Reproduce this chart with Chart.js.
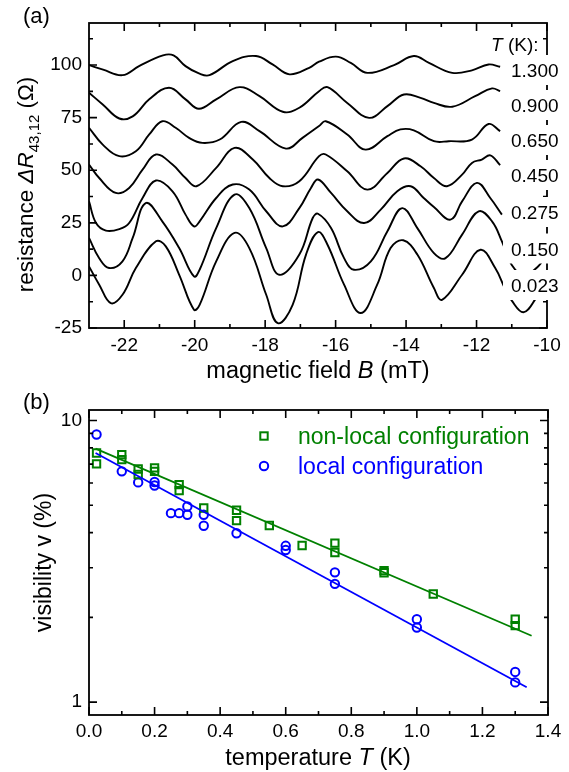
<!DOCTYPE html>
<html>
<head>
<meta charset="utf-8">
<script src="https://cdn.jsdelivr.net/npm/chart.js@4.4.1/dist/chart.umd.min.js"></script>
<style>
  html, body { margin: 0; padding: 0; background: #fff; }
  #wrap { position: relative; width: 569px; height: 772px; }
  canvas { position: absolute; left: 0; }
  #panelA { top: 0; }
  #panelB { top: 386px; }
</style>
</head>
<body>
<div id="wrap">
  <canvas id="panelA" width="569" height="386" style="width:569px;height:386px"></canvas>
  <canvas id="panelB" width="569" height="386" style="width:569px;height:386px"></canvas>
</div>
<script>
// ---- panel (a): resistance oscillations vs magnetic field ----
const fieldTicks = [-22, -20, -18, -16, -14, -12, -10];
const fieldMinorTicks = [-21, -19, -17, -15, -13, -11];
const resistanceTicks = [-25, 0, 25, 50, 75, 100];
const resistanceMinorTicks = [-12.5, 12.5, 37.5, 62.5, 87.5, 112.5];
const tempLabels = ['1.300', '0.900', '0.650', '0.450', '0.275', '0.150', '0.023'];

// [B (mT), dR (Ohm)] with vertical offsets already included
const trace1300 = [[-23.0,100],[-22.6,97.8],[-22.05,95.2],[-21.58,99.5],[-20.9,104.6],[-20.6,104.6],[-20.26,99.5],[-19.88,96],[-19.58,95.2],[-18.92,101.9],[-18.26,104.3],[-17.79,100.3],[-17.31,95.6],[-16.75,98.7],[-16.47,101.6],[-15.99,104],[-15.57,101],[-15.1,96.3],[-14.34,100],[-13.78,104.3],[-13.35,101],[-12.69,96.3],[-12.13,97.5],[-11.66,100.3],[-11.33,99.2]];
const trace0900 = [[-23.0,86.8],[-22.61,81.3],[-22.14,74.6],[-21.76,75.6],[-21.29,83.7],[-20.73,89.2],[-20.26,83.7],[-19.88,79.2],[-19.39,83.7],[-18.73,89.5],[-18.16,85.2],[-17.5,77.8],[-17.03,79.7],[-16.47,87.6],[-16.23,89.5],[-15.67,82],[-15.05,74.9],[-14.53,80.5],[-14.06,86],[-13.59,84.4],[-13.21,82],[-12.69,80.2],[-12.04,85.2],[-11.56,88.9],[-11.33,87.6]];
const trace0650 = [[-23.0,70.2],[-22.61,62.2],[-22.14,56.7],[-21.67,59],[-21.29,67],[-20.92,73.3],[-20.54,70.2],[-20.16,65.4],[-19.78,63],[-19.29,64.6],[-18.68,73],[-18.16,68.6],[-17.41,60.3],[-16.94,65.4],[-16.47,71],[-16.28,73.3],[-15.67,67],[-15.15,59.8],[-14.53,66.2],[-14.16,69.4],[-13.78,69],[-13.21,63.8],[-12.79,63.8],[-12.13,64.6],[-11.66,72],[-11.33,68.6]];
const trace0450 = [[-23.0,52.7],[-22.71,46.3],[-22.24,39.2],[-21.86,41.6],[-21.48,50.3],[-21.1,57.5],[-20.63,52.7],[-20.26,46.3],[-19.95,42.4],[-19.39,51.1],[-18.87,60.6],[-18.35,55.1],[-17.88,46.3],[-17.5,42.4],[-17.03,44.8],[-16.47,56.7],[-16.28,57.5],[-15.67,49.5],[-15.1,40.8],[-14.53,48.7],[-14.06,55.6],[-13.59,51.9],[-13.21,46.3],[-12.84,42.4],[-12.41,47.9],[-12.13,53.5],[-11.85,55.1],[-11.61,57.1],[-11.33,52.4]];
const trace0275 = [[-23.0,35.2],[-22.8,24.9],[-22.52,21.3],[-22.14,22],[-21.86,24.9],[-21.48,36.8],[-21.1,45.1],[-20.63,40],[-20.26,28.9],[-20.02,23.3],[-19.86,25.7],[-19.39,36.8],[-18.92,43.2],[-18.45,40.8],[-17.97,30.5],[-17.5,23.3],[-17.03,32],[-16.7,41.6],[-16.5,45.6],[-16.13,39.2],[-15.67,30.5],[-15.19,24.9],[-14.72,31.3],[-14.25,40],[-13.87,42.4],[-13.5,36.8],[-13.21,32.5],[-12.74,26.5],[-12.41,35.2],[-11.99,44],[-11.61,36.8],[-11.28,28.9]];
const trace0150 = [[-23.0,17.8],[-22.71,8.2],[-22.43,3.5],[-22.05,6.7],[-21.76,17.8],[-21.39,34.4],[-20.92,25.7],[-20.44,13],[-20.02,-0.5],[-19.86,2.7],[-19.39,22.5],[-18.87,38.4],[-18.45,32],[-17.97,13],[-17.6,0.3],[-17.03,9.9],[-16.65,27.3],[-16.5,29.3],[-16.13,22.5],[-15.76,8.2],[-15.48,2.7],[-15.0,6.7],[-14.53,21],[-14.11,32],[-13.68,22.5],[-13.21,10.6],[-12.88,8.2],[-12.41,19.4],[-11.94,30.5],[-11.56,25.7],[-11.28,16.2],[-11.0,5],[-10.65,0],[-10.24,4.5],[-10.05,9]];
const trace0023 = [[-23.0,4.3],[-22.71,-4.4],[-22.38,-13.2],[-22.05,-9.2],[-21.67,3.5],[-21.1,16.2],[-20.82,13.8],[-20.44,0.3],[-20.02,-16.3],[-19.86,-14],[-19.39,6.7],[-18.87,20.2],[-18.45,13],[-17.97,-9.2],[-17.64,-22.7],[-17.22,-14],[-16.84,9.9],[-16.5,20.6],[-16.23,14.6],[-15.76,-4.4],[-15.29,-17.9],[-14.82,-4.4],[-14.44,13],[-14.08,16.7],[-13.68,9.9],[-13.21,-6],[-12.98,-11.6],[-12.41,0.3],[-11.89,12.2],[-11.47,3.5],[-11.2,-6],[-11.0,-12],[-10.67,-17.5],[-10.34,-11.5],[-10.1,-3]];
const traces = [trace1300, trace0900, trace0650, trace0450, trace0275, trace0150, trace0023];

// ---- panel (b): visibility vs temperature ----
const tempTicks = [0, 0.2, 0.4, 0.6, 0.8, 1.0, 1.2, 1.4];
const tempMinorTicks = [0.1, 0.3, 0.5, 0.7, 0.9, 1.1, 1.3];
const visTicks = [1, 10];
const visMinorTicks = [2, 3, 4, 5, 6, 7, 8, 9];

const nonlocalT = [0.023, 0.023, 0.1, 0.1, 0.15, 0.15, 0.2, 0.2, 0.275, 0.275, 0.35, 0.45, 0.45, 0.55, 0.65, 0.75, 0.75, 0.9, 0.9, 1.05, 1.3, 1.3];
const nonlocalV = [7.67, 7.02, 7.57, 7.26, 6.73, 6.43, 6.79, 6.60, 5.92, 5.64, 4.89, 4.80, 4.41, 4.24, 3.60, 3.67, 3.40, 2.93, 2.88, 2.42, 1.97, 1.87];
const localT = [0.023, 0.1, 0.15, 0.2, 0.2, 0.25, 0.275, 0.3, 0.3, 0.35, 0.35, 0.45, 0.6, 0.6, 0.75, 0.75, 1.0, 1.0, 1.3, 1.3];
const localV = [8.92, 6.60, 6.03, 6.05, 5.88, 4.69, 4.69, 4.95, 4.63, 4.63, 4.23, 3.98, 3.59, 3.47, 2.89, 2.63, 1.97, 1.84, 1.28, 1.175];
const fitNonlocalT = [0.02, 1.35];
const fitNonlocalV = [7.95, 1.72];
const fitLocalT = [0.02, 1.335];
const fitLocalV = [7.67, 1.13];

const FONT = "'Liberation Sans', Arial, Helvetica, sans-serif";
const GREEN = '#008000';
const BLUE = '#0000ff';
const tickFont = { family: FONT, size: 19 };

function pairs(xs, ys) {
    return xs.map((x, i) => ({ x: x, y: ys[i] }));
}

// frame plus inward major/minor ticks on all four sides
function drawFrame(chart, xMinor, yMinor) {
    const { ctx, chartArea: a, scales: { x, y } } = chart;
    ctx.save();
    ctx.strokeStyle = '#000';
    ctx.lineWidth = 1.8;
    ctx.strokeRect(a.left, a.top, a.right - a.left, a.bottom - a.top);
    ctx.lineWidth = 1.6;
    ctx.beginPath();
    const xTick = (v, len) => {
        const px = x.getPixelForValue(v);
        ctx.moveTo(px, a.bottom); ctx.lineTo(px, a.bottom - len);
        ctx.moveTo(px, a.top); ctx.lineTo(px, a.top + len);
    };
    const yTick = (v, len) => {
        const py = y.getPixelForValue(v);
        ctx.moveTo(a.left, py); ctx.lineTo(a.left + len, py);
        ctx.moveTo(a.right, py); ctx.lineTo(a.right - len, py);
    };
    x.ticks.forEach(t => xTick(t.value, 8));
    xMinor.forEach(v => xTick(v, 4));
    y.ticks.forEach(t => yTick(t.value, 8));
    yMinor.forEach(v => yTick(v, 4));
    ctx.stroke();
    ctx.restore();
}

// mixed-style text run (italic symbols, subscripts), centred on (cx, baseline)
function richText(ctx, parts, cx, baseline, rotate) {
    ctx.save();
    ctx.translate(cx, baseline);
    if (rotate) ctx.rotate(-Math.PI / 2);
    let total = 0;
    parts.forEach(p => { ctx.font = p.font; p.w = ctx.measureText(p.text).width; total += p.w; });
    let x = -total / 2;
    ctx.textAlign = 'left';
    ctx.textBaseline = 'alphabetic';
    parts.forEach(p => {
        ctx.font = p.font;
        ctx.fillStyle = p.color || '#000';
        ctx.fillText(p.text, x, p.dy || 0);
        x += p.w;
    });
    ctx.restore();
}

const panelAPlugin = {
    id: 'panelADecor',
    afterDraw(chart) {
        const ctx = chart.ctx;
        drawFrame(chart, fieldMinorTicks, resistanceMinorTicks);

        // temperature labels on the right, on white patches
        const centres = [70, 105, 140, 175, 212, 248.5, 285];
        ctx.save();
        ctx.font = '19px ' + FONT;
        ctx.textAlign = 'left';
        ctx.textBaseline = 'alphabetic';
        tempLabels.forEach((lbl, i) => {
            ctx.fillStyle = '#fff';
            ctx.fillRect(503, centres[i] - 15, 62, 30);
            ctx.fillStyle = '#000';
            ctx.fillText(lbl, 511, centres[i] + 7);
        });
        ctx.font = 'italic 19px ' + FONT;
        ctx.fillText('T', 491, 50.5);
        const tw = ctx.measureText('T').width;
        ctx.font = '19px ' + FONT;
        ctx.fillText(' (K):', 491 + tw, 50.5);

        ctx.font = '22px ' + FONT;
        ctx.fillText('(a)', 23, 23);
        ctx.restore();

        richText(ctx, [
            { text: 'magnetic field ', font: '23.5px ' + FONT },
            { text: 'B', font: 'italic 23.5px ' + FONT },
            { text: ' (mT)', font: '23.5px ' + FONT }
        ], 318, 378, false);

        richText(ctx, [
            { text: 'resistance ', font: '22.5px ' + FONT },
            { text: '\u0394R', font: 'italic 22.5px ' + FONT },
            { text: '43,12', font: '15px ' + FONT, dy: 6 },
            { text: ' (\u03A9)', font: '22.5px ' + FONT }
        ], 33, 184.5, true);
    }
};

const panelBPlugin = {
    id: 'panelBDecor',
    afterDraw(chart) {
        const ctx = chart.ctx;
        drawFrame(chart, tempMinorTicks, visMinorTicks);

        ctx.save();
        // legend
        ctx.lineWidth = 2;
        ctx.strokeStyle = GREEN;
        ctx.strokeRect(264 - 3.7, 50 - 3.7, 7.4, 7.4);
        ctx.strokeStyle = BLUE;
        ctx.beginPath();
        ctx.arc(264, 80, 4.2, 0, Math.PI * 2);
        ctx.stroke();
        ctx.font = '23px ' + FONT;
        ctx.textAlign = 'left';
        ctx.textBaseline = 'alphabetic';
        ctx.fillStyle = GREEN;
        ctx.fillText('non-local configuration', 298, 57.5);
        ctx.fillStyle = BLUE;
        ctx.fillText('local configuration', 298, 87.5);

        ctx.fillStyle = '#000';
        ctx.font = '22px ' + FONT;
        ctx.fillText('(b)', 23, 23);
        ctx.restore();

        richText(ctx, [
            { text: 'temperature ', font: '23.5px ' + FONT },
            { text: 'T', font: 'italic 23.5px ' + FONT },
            { text: ' (K)', font: '23.5px ' + FONT }
        ], 318, 379, false);

        richText(ctx, [
            { text: 'visibility v (%)', font: '23px ' + FONT }
        ], 50.5, 176.5, true);
    }
};

new Chart(document.getElementById('panelA'), {
    type: 'line',
    data: {
        datasets: traces.map((pts, i) => ({
            label: tempLabels[i],
            data: pts.map(p => ({ x: p[0], y: p[1] })),
            borderColor: '#000',
            borderWidth: 1.9,
            pointRadius: 0,
            tension: 0.4,
            fill: false
        }))
    },
    options: {
        responsive: false,
        animation: false,
        events: [],
        layout: { padding: { left: 40, right: 22, top: 23, bottom: 11 } },
        plugins: { legend: { display: false }, tooltip: { enabled: false } },
        scales: {
            x: {
                type: 'linear', min: -23, max: -10,
                grid: { display: false, drawTicks: false },
                border: { display: false },
                ticks: { font: tickFont, color: '#000', padding: 6, autoSkip: false, maxRotation: 0 },
                afterBuildTicks: s => { s.ticks = fieldTicks.map(v => ({ value: v })); },
                afterFit: s => { s.height = 47; }
            },
            y: {
                type: 'linear', min: -25, max: 120,
                grid: { display: false, drawTicks: false },
                border: { display: false },
                ticks: { font: tickFont, color: '#000', padding: 7, autoSkip: false },
                afterBuildTicks: s => { s.ticks = resistanceTicks.map(v => ({ value: v })); },
                afterFit: s => { s.width = 49; }
            }
        }
    },
    plugins: [panelAPlugin]
});

new Chart(document.getElementById('panelB'), {
    type: 'scatter',
    data: {
        datasets: [
            {
                type: 'line', data: pairs(fitNonlocalT, fitNonlocalV),
                borderColor: GREEN, borderWidth: 1.8, pointRadius: 0, fill: false
            },
            {
                type: 'line', data: pairs(fitLocalT, fitLocalV),
                borderColor: BLUE, borderWidth: 1.8, pointRadius: 0, fill: false
            },
            {
                label: 'non-local configuration', data: pairs(nonlocalT, nonlocalV),
                pointStyle: 'rect', pointRadius: 5.2, borderWidth: 2,
                borderColor: GREEN, backgroundColor: 'rgba(0,0,0,0)'
            },
            {
                label: 'local configuration', data: pairs(localT, localV),
                pointStyle: 'circle', pointRadius: 4.2, borderWidth: 2,
                borderColor: BLUE, backgroundColor: 'rgba(0,0,0,0)'
            }
        ]
    },
    options: {
        responsive: false,
        animation: false,
        events: [],
        layout: { padding: { left: 40, right: 21, top: 24, bottom: 10 } },
        plugins: { legend: { display: false }, tooltip: { enabled: false } },
        scales: {
            x: {
                type: 'linear', min: 0, max: 1.4,
                grid: { display: false, drawTicks: false },
                border: { display: false },
                ticks: {
                    font: tickFont, color: '#000', padding: 5, autoSkip: false, maxRotation: 0,
                    callback: v => v.toFixed(1)
                },
                afterBuildTicks: s => { s.ticks = tempTicks.map(v => ({ value: v })); },
                afterFit: s => { s.height = 47; }
            },
            y: {
                type: 'logarithmic', min: 0.9, max: 10.9,
                grid: { display: false, drawTicks: false },
                border: { display: false },
                ticks: { font: tickFont, color: '#000', padding: 7, autoSkip: false, callback: v => String(v) },
                afterBuildTicks: s => { s.ticks = visTicks.map(v => ({ value: v })); },
                afterFit: s => { s.width = 49; }
            }
        }
    },
    plugins: [panelBPlugin]
});
</script>
</body>
</html>
